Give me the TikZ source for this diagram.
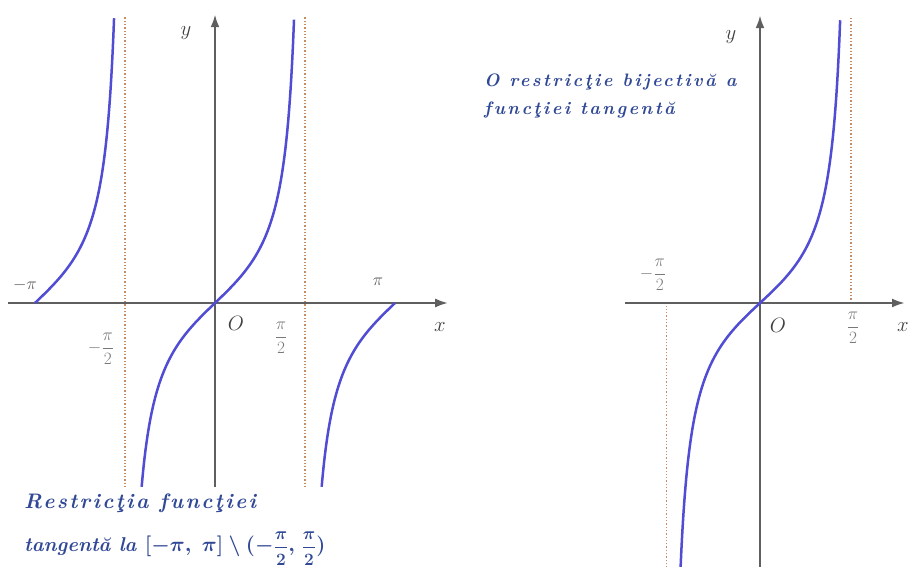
\documentclass[tikz,border=0pt]{standalone}
\usepackage{amsmath}
\usepackage{fontspec}
\newfontfamily\lblfont{lmroman10-bolditalic.otf}[LetterSpace=11]
\newfontfamily\lblfontr{lmroman10-bolditalic.otf}[LetterSpace=13.5]
\newfontfamily\lblfontn{lmroman10-bolditalic.otf}
\usetikzlibrary{arrows.meta}
\definecolor{axisgray}{RGB}{95,95,95}
\definecolor{curveblue}{RGB}{80,76,212}
\definecolor{asymcol}{RGB}{200,140,100}
\definecolor{txtblue}{RGB}{48,72,150}
\definecolor{lblgray}{RGB}{120,120,120}
\newcommand{\halfpi}{{\fontsize{17}{20}\selectfont\boldmath$\dfrac{\pi}{2}$}}
\newcommand{\myformula}{{\fontsize{22}{26}\selectfont\boldmath$[-\pi,\;\pi]\setminus(-$\halfpi$,\;$\halfpi$)$}}
\begin{document}
\begin{tikzpicture}[x=1pt,y=1pt,
  axisline/.style={draw=axisgray, line width=2.4pt, -{Latex[length=13pt,width=9pt]}},
  asym/.style={draw=asymcol, line width=1.3pt, dotted},
  curve/.style={draw=curveblue, line width=2.5pt},
  mlab/.style={inner sep=0pt, text=black!75, font=\fontsize{21}{25}\selectfont},
  slab/.style={inner sep=0pt, text=black!65, font=\fontsize{16}{19}\selectfont},
  flab/.style={inner sep=0pt, text=lblgray, font=\fontsize{16}{19}\selectfont},
  txt/.style={inner sep=0pt, text=txtblue, anchor=base west}
]
\useasboundingbox (0,0) rectangle (911,567);

% ---------- left graph ----------
\begin{scope}[shift={(215pt,264pt)}, x=57.3pt, y=55pt]
  \coordinate (L-xs) at (-3.61,0);
  \coordinate (L-xe) at (4.07,0);
  \coordinate (L-ys) at (0,-3.35);
  \coordinate (L-ye) at (0,5.25);
  \coordinate (L-a1b) at (-1.5708,-3.35);
  \coordinate (L-a1t) at (-1.5708,5.2);
  \coordinate (L-a2b) at (1.5708,-3.35);
  \coordinate (L-a2t) at (1.5708,5.2);
  \draw[asym] (L-a1b) -- (L-a1t);
  \draw[asym] (L-a2b) -- (L-a2t);
  \draw[axisline] (L-xs) -- (L-xe);
  \draw[axisline] (L-ys) -- (L-ye);
  \draw[curve] plot[domain=-3.1416:-1.7616, samples=120] (\x,{tan(\x r)});
  \draw[curve] plot[domain=-1.28:1.38, samples=160] (\x,{tan(\x r)});
  \draw[curve] plot[domain=1.8616:3.1416, samples=120] (\x,{tan(\x r)});
\end{scope}

% ---------- right graph ----------
\begin{scope}[shift={(760pt,264pt)}, x=58pt, y=54pt]
  \coordinate (R-xs) at (-2.33,0);
  \coordinate (R-xe) at (2.5,0);
  \coordinate (R-ys) at (0,-4.9);
  \coordinate (R-ye) at (0,5.33);
  \coordinate (R-a1b) at (-1.612,-4.9);
  \coordinate (R-a1t) at (-1.612,0);
  \coordinate (R-a2b) at (1.57,0);
  \coordinate (R-a2t) at (1.57,5.3);
  \draw[asym] (R-a1b) -- (R-a1t);
  \draw[asym] (R-a2b) -- (R-a2t);
  \draw[axisline] (R-xs) -- (R-xe);
  \draw[axisline] (R-ys) -- (R-ye);
  \draw[curve] plot[domain=-1.369:1.383, samples=200] (\x,{tan(\x r)});
\end{scope}

% ---------- labels, left ----------
\node[mlab] (L-y) at (186,534) {$y$};
\node[mlab] (L-x) at (440,240) {$x$};
\node[mlab] (L-O) at (236,244) {$O$};
\node[slab] (L-mpi) at (25,282) {$-\pi$};
\node[slab] (L-pi) at (378,285) {$\pi$};
\node[flab] (L-mpi2) at (101,218) {$-\dfrac{\pi}{2}$};
\node[flab] (L-pi2) at (281,229) {$\dfrac{\pi}{2}$};

% ---------- labels, right ----------
\node[flab] (R-mpi2) at (653,292) {$-\dfrac{\pi}{2}$};
\node[mlab] (R-y) at (731,530) {$y$};
\node[mlab] (R-x) at (903,240) {$x$};
\node[mlab] (R-O) at (778,242) {$O$};
\node[flab] (R-pi2) at (853,239) {$\dfrac{\pi}{2}$};

% ---------- texts ----------
\node[txt, font=\fontsize{21}{25}\lblfont] (T1) at (24,58) {Restricţia funcţiei};
\node[txt, font=\fontsize{20}{24}\lblfontn] (T2) at (24,15) {tangentă la \myformula};
\node[txt, font=\fontsize{18}{22}\lblfontr] (T3) at (484,480) {O restricţie bijectivă a};
\node[txt, font=\fontsize{18}{22}\lblfontr] (T4) at (484,452) {funcţiei tangentă};
\end{tikzpicture}
\end{document}
